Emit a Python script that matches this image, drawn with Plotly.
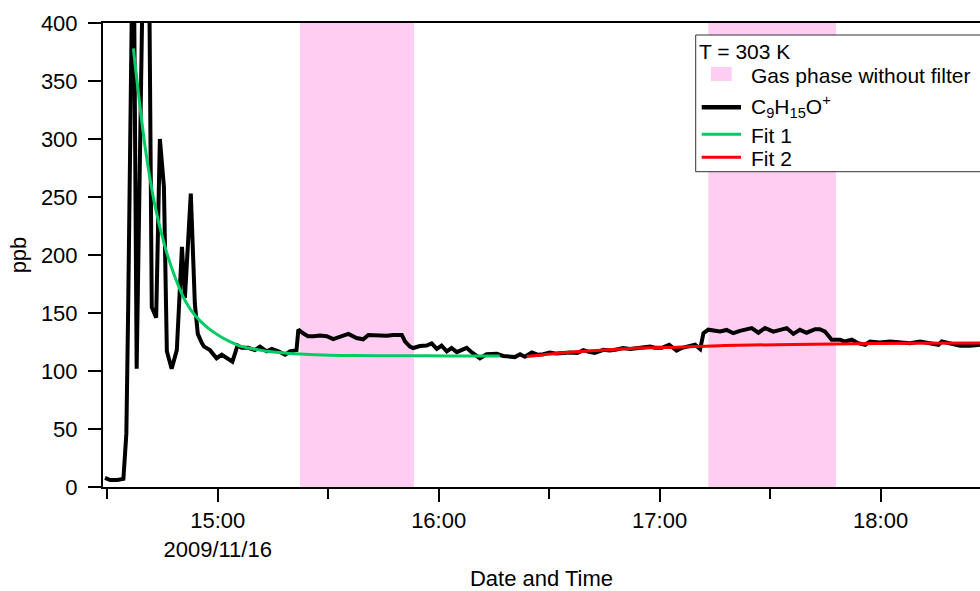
import pandas as pd
import plotly.graph_objects as go

# Time axis is expressed as minutes after 14:00 on the measurement day.
day = pd.Timestamp("2009-11-16 14:00:00")

# C9H15O+ signal (ppb)
minutes = [
    29.4, 30.8, 32.7, 34.4, 35.2, 35.7, 37.1, 38.0, 40.0, 41.1,
    42.1, 43.3, 44.3, 45.4, 46.2, 47.5, 48.9, 50.3, 51.1, 52.7,
    53.8, 54.6, 55.7, 56.3, 57.9, 59.7, 61.1, 62.7, 64.0, 65.4,
    66.5, 68.3, 70.1, 71.5, 73.3, 74.7, 76.5, 78.3, 79.6, 81.4,
    81.9, 83.2, 84.5, 86.0, 87.8, 89.6, 91.4, 93.7, 95.5, 97.7,
    99.5, 100.9, 103.2, 105.9, 107.7, 110.0, 110.9, 112.2, 113.1, 114.9,
    116.7, 118.1, 119.5, 120.8, 122.2, 123.5, 124.9, 126.3, 127.6, 129.0,
    130.8, 131.2, 133.0, 135.8, 137.5, 139.4, 140.7, 142.1, 143.4, 145.3,
    147.0, 148.4, 150.2, 152.0, 153.8, 155.7, 157.6, 159.3, 160.8, 162.4,
    164.7, 166.5, 168.3, 170.1, 172.0, 173.8, 175.5, 177.4, 178.7, 180.6,
    182.6, 184.6, 186.1, 187.3, 189.6, 191.0, 191.9, 193.2, 194.8, 196.4,
    198.2, 200.0, 201.8, 203.2, 205.0, 206.8, 208.6, 210.9, 212.7, 214.5,
    216.3, 218.1, 219.9, 222.2, 223.5, 224.9, 226.7, 229.0, 230.3, 232.2,
    233.9, 235.8, 237.1, 239.8, 242.6, 245.3, 248.0, 250.7, 253.4, 255.7,
    256.6, 258.8, 261.6, 264.3, 267.0, 268.5,
]
ppb = [
    7.8, 6, 6, 7, 46, 155, 520, 102, 512, 567,
    155, 146, 300, 259, 117, 102, 118, 207, 163, 253,
    158, 132, 124, 121, 118, 111, 114, 111, 108, 122,
    120, 120, 118, 121, 117, 119, 117, 114, 117, 118,
    135.6, 132.5, 130, 130, 130.5, 130, 127.5, 130, 132, 128.4,
    127.3, 131, 130.5, 130.3, 131, 131, 125.4, 121, 119.8, 121.5,
    122, 123.8, 119, 121.8, 117, 119.8, 116.3, 118.5, 120, 116,
    112.5, 111, 114.5, 114.8, 113, 112.5, 112, 114.5, 112.3, 116,
    114, 114.5, 116, 115, 115.4, 116, 115.5, 118, 116.5, 115.5,
    118.3, 117.7, 118.5, 119.8, 119, 119.8, 121, 121, 120, 120,
    122.6, 117.5, 120, 121, 122.6, 118.9, 132.6, 135.6, 134.5, 134,
    135.4, 132.6, 134.6, 135.5, 137, 133, 137, 134, 135.5, 137,
    132, 135.5, 133, 136, 136, 134, 127, 127, 125.4, 127,
    124, 122.6, 125.4, 124.5, 125.4, 124.5, 124, 125.4, 124, 122.6,
    125.4, 124, 121.8, 121.8, 122.6, 123,
]

# Fit 1 (decay after the injection spikes)
fit1_minutes = [37.1, 40.3, 43.0, 45.7, 48.4, 51.1, 53.8, 57.4, 60.6, 62.9,
                66.1, 69.7, 73.3, 78.7, 82.3, 90.5, 96.8, 109.5, 123.1, 136.6]
fit1_ppb = [378, 293, 242, 207, 181, 161, 148, 137, 130, 126,
            121.5, 119, 117, 115.4, 114.6, 113.5, 113.3, 113.1, 113.0, 113.0]

# Fit 2 (slow rise)
fit2_minutes = [143.9, 155.7, 167.4, 173.8, 184.6, 197.7, 232.6, 267.0, 268.5]
fit2_ppb = [112.5, 116.2, 118.5, 119.8, 120.5, 122.0, 123.5, 124.2, 124.3]

# Periods sampled in the gas phase without filter
band_start_min = [82.35, 193.21]
band_end_min = [113.30, 227.88]

x_range_min = [28.86, 266.98]
y_range = [0, 400]
major_tick_min = [60, 120, 180, 240]
major_tick_text = ["15:00<br>2009/11/16", "16:00", "17:00", "18:00"]
minor_tick_min = [30, 90, 150, 210]

legend_title = "T = 303 K"
legend_labels = ["Gas phase without filter",
                 "C<sub>9</sub>H<sub>15</sub>O<sup>+</sup>",
                 "Fit 1", "Fit 2"]

BAND_COLOR = "#FFCCF2"
DATA_COLOR = "black"
FIT1_COLOR = "#00CC66"
FIT2_COLOR = "#FF0000"
FONT = "Liberation Sans, Arial, sans-serif"
FS = 22

# Figure geometry in pixels (used to place the legend box)
W, H = 980, 591
ML, MR, MT, MB = 103, 0, 23, 104
PW, PH = W - ML - MR, H - MT - MB


def to_time(values):
    return [day + pd.Timedelta(minutes=m) for m in values]


def px(xp):
    return (xp - ML) / PW


def py(yp):
    return (H - MB - yp) / PH


fig = go.Figure()

fig.add_trace(go.Bar(
    x=to_time(band_start_min),
    y=[y_range[1]] * len(band_start_min),
    base=0,
    width=[(e - s) * 60000 for s, e in zip(band_start_min, band_end_min)],
    offset=0,
    marker=dict(color=BAND_COLOR, line=dict(width=0)),
    name=legend_labels[0],
    showlegend=False,
))
fig.add_trace(go.Scatter(
    x=to_time(minutes), y=ppb, mode="lines",
    line=dict(color=DATA_COLOR, width=4),
    name=legend_labels[1], showlegend=False,
))
fig.add_trace(go.Scatter(
    x=to_time(fit1_minutes), y=fit1_ppb, mode="lines",
    line=dict(color=FIT1_COLOR, width=3, shape="spline", smoothing=0.8),
    name=legend_labels[2], showlegend=False,
))
fig.add_trace(go.Scatter(
    x=to_time(fit2_minutes), y=fit2_ppb, mode="lines",
    line=dict(color=FIT2_COLOR, width=3, shape="spline", smoothing=0.8),
    name=legend_labels[3], showlegend=False,
))

# Legend box drawn in paper coordinates
shapes = [
    dict(type="rect", xref="paper", yref="paper",
         x0=px(695.7), x1=px(995), y0=py(171.7), y1=py(35),
         fillcolor="white", line=dict(color="#333333", width=1), layer="above"),
    dict(type="rect", xref="paper", yref="paper",
         x0=px(711), x1=px(731.7), y0=py(81), y1=py(67),
         fillcolor=BAND_COLOR, line=dict(width=0), layer="above"),
]
for color, width, yy in [(DATA_COLOR, 4.5, 107.3), (FIT1_COLOR, 3, 134.3), (FIT2_COLOR, 3, 157.3)]:
    shapes.append(dict(type="line", xref="paper", yref="paper",
                       x0=px(701.7), x1=px(741), y0=py(yy), y1=py(yy),
                       line=dict(color=color, width=width), layer="above"))

annotations = [
    dict(text=legend_title, xref="paper", yref="paper", x=px(696.5), y=py(51.5),
         xanchor="left", yanchor="middle", showarrow=False,
         font=dict(family=FONT, size=21, color="black")),
]
for label, yy in zip(legend_labels, [75.5, 106.5, 135, 158]):
    annotations.append(dict(text=label, xref="paper", yref="paper", x=px(749), y=py(yy),
                            xanchor="left", yanchor="middle", showarrow=False,
                            font=dict(family=FONT, size=21, color="black")))

fig.update_layout(
    width=W, height=H,
    margin=dict(l=ML, r=MR, t=MT, b=MB, autoexpand=False),
    paper_bgcolor="white", plot_bgcolor="white",
    font=dict(family=FONT, size=FS, color="black"),
    showlegend=False,
    hovermode=False,
    shapes=shapes,
    annotations=annotations,
    xaxis=dict(
        type="date",
        range=to_time(x_range_min),
        showgrid=False, zeroline=False,
        showline=True, linecolor="black", linewidth=2, mirror=True,
        ticks="outside", ticklen=13, tickwidth=2, tickcolor="black",
        tickmode="array",
        tickvals=to_time(major_tick_min), ticktext=major_tick_text,
        tickfont=dict(family=FONT, size=FS),
        minor=dict(
            tickmode="array", tickvals=to_time(minor_tick_min),
            ticks="outside", ticklen=10, tickwidth=2, tickcolor="black",
            showgrid=False,
        ),
        title=dict(text="Date and Time", font=dict(family=FONT, size=FS), standoff=18),
        automargin=False,
    ),
    yaxis=dict(
        range=y_range,
        showgrid=False, zeroline=False,
        showline=True, linecolor="black", linewidth=2,
        ticks="outside", ticklen=13, tickwidth=2, tickcolor="black",
        tickmode="linear", tick0=0, dtick=50,
        tickfont=dict(family=FONT, size=FS),
        ticklabelstandoff=6,
        title=dict(text="ppb", font=dict(family=FONT, size=FS), standoff=8),
        automargin=False,
    ),
)

fig.write_html("out.html")
